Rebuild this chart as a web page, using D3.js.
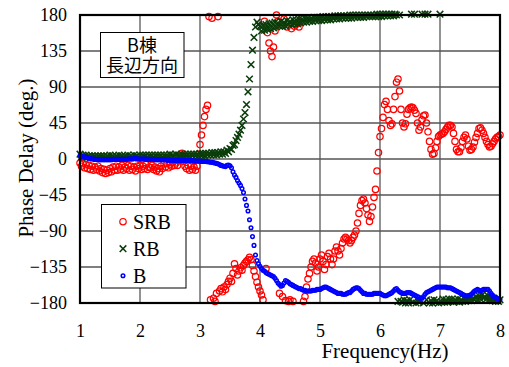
<!DOCTYPE html>
<html>
<head>
<meta charset="utf-8">
<script src="https://cdn.jsdelivr.net/npm/d3@7"></script>
<style>
body { margin: 0; background: #fff; }
text { font-family: "Liberation Serif", "Times New Roman", serif; fill: #000; }
</style>
</head>
<body>
<svg id="chart" width="509" height="367"></svg>
<script>
var width = 509, height = 367
var plot = {left: 80, right: 500, top: 15, bottom: 303}

var xTicks = [1, 2, 3, 4, 5, 6, 7, 8]
var yTicks = [-180, -135, -90, -45, 0, 45, 90, 135, 180]
var legendNames = ["SRB", "RB", "B"]
var noteLines = ["B棟", "長辺方向"]

// sampled every 0.025 Hz from 1 Hz to 8 Hz (8 values per 0.2 Hz row)
var fStart = 1, fStep = 0.025

var srb = [
  -5, -9, -6, -11, -7, -12, -8, -13,
  -9, -14, -10, -13, -9, -15, -12, -17,
  -13, -18, -14, -17, -12, -16, -10, -14,
  -9, -14, -10, -13, -8, -14, -10, -12,
  -8, -14, -9, -13, -10, -15, -9, -12,
  -8, -13, -9, -12, -7, -13, -10, -11,
  -8, -13, -10, -15, -12, -16, -9, -12,
  -6, -10, -6, -11, -7, -9, -4, -8,
  -5, -8, -2, 4, 7, -3, -9, -12,
  -8, -14, -9, -13, -10, -14, -9, 6,
  18, 30, 42, 53, 62, 67, 178, -176,
  176, -174, -178, -168, 178, -165, -162, -166,
  -160, -163, -157, -153, -149, -153, -143, -131,
  -137, -145, -140, -136, -139, -133, -130, -128,
  -126, -123, -126, -133, -140, -147, -154, -160,
  -165, -170, -176, 172, -137, 158, 145, 135,
  128, 140, 160, 180, 172, -168, 168, -172,
  175, -177, 165, -178, -176, 163, -178, 166,
  168, 170, 165, 172, 176, -178, -172, -160,
  -150, -143, -135, -128, -125, -130, -140, -135,
  -125, -120, -128, -138, -132, -122, -118, -125,
  -132, -125, -115, -110, -115, -120, -112, -105,
  -100, -98, -100, -102, -105, -102, -98, -95,
  -90, -80, -68, -58, -52, -50, -55, -62,
  -70, -78, -72, -60, -48, -38, -15, 8,
  28, 38, 52, 68, 72, 62, 48, 42,
  44, 62, 78, 96, 100, 85, 62, 45,
  40, 44, 56, 62, 64, 65, 64, 61,
  57, 45, 36, 40, 49, 54, 55, 45,
  34, 22, 12, 6, 7, 14, 22, 28,
  30, 31, 32, 34, 37, 40, 42, 42,
  40, 32, 22, 12, 9, 9, 14, 22,
  27, 30, 25, 16, 11, 12, 15, 21,
  27, 32, 38, 39, 36, 32, 27, 22,
  18, 15, 16, 19, 22, 25, 27, 28,
  30
]

var rb = [
  6, 3, 5, 3, 5, 2, 4, 2,
  4, 2, 4, 1, 4, 2, 4, 2,
  4, 1, 4, 2, 5, 2, 4, 1,
  4, 2, 5, 2, 4, 2, 4, 2,
  5, 2, 4, 2, 5, 3, 4, 2,
  5, 2, 5, 3, 5, 2, 5, 3,
  5, 2, 5, 3, 5, 3, 5, 2,
  5, 3, 5, 2, 6, 3, 5, 3,
  6, 3, 5, 3, 6, 3, 6, 3,
  6, 3, 6, 4, 6, 4, 6, 4,
  7, 4, 7, 4, 7, 5, 7, 5,
  8, 5, 8, 5, 8, 6, 9, 6,
  9, 7, 11, 9, 13, 12, 17, 18,
  23, 27, 31, 36, 42, 50, 58, 68,
  84, 100, 118, 136, 152, 165, 171, 168,
  166, 160, 167, 161, 168, 162, 169, 163,
  170, 164, 171, 165, 170, 166, 172, 166,
  171, 166, 173, 168, 172, 168, 174, 169,
  174, 169, 175, 170, 175, 171, 176, 171,
  176, 172, 176, 172, 177, 173, 177, 173,
  177, 173, 178, 174, 178, 174, 178, 174,
  178, 175, 179, 175, 179, 175, 179, 176,
  179, 176, 179, 176, 180, 176, 180, 177,
  180, 177, 180, 177, 180, 177, 180, 178,
  180, 178, 180, 178, 180, 178, 181, 178,
  181, 178, 181, 179, 181, 179, 181, 179,
  181, 179, 181, 180, -178, 180, -178, -179,
  -176, -180, -177, -180, -176, 181, -179, 181,
  -180, -176, -179, -177, 181, -180, 181, -176,
  181, -180, -177, -180, -176, -179, -177, -180,
  181, -179, -175, -179, -176, -179, -175, -178,
  -175, -179, -176, -178, -175, -179, -176, -178,
  -174, -178, -175, -177, -173, -177, -174, -176,
  -172, -176, -171, -175, -170, -174, -172, -175,
  -171, -176, -173, -177, -174, -178, -175, -178,
  -176
]

var b = [
  4, 3.5, 3, 2.5, 2, 1.5, 1, 0.5,
  0, 0, -0.5, -0.5, -1, -1, -1, -1,
  -1, -1, -1, -1, -1, -1, -0.5, -0.5,
  -0.5, -0.5, -0.5, -0.5, -0.5, -0.5, -0.5, -0.5,
  0, 0, 0, 0, 0.5, 0.5, 0, 0,
  0, 0, 0, 0, 0, -0.5, -0.5, -0.5,
  -0.5, -0.5, -1, -1, -1, -1, -1, -1,
  -1, -1, -1.5, -1.5, -1.5, -1.5, -1.5, -2,
  -2, -2, -2, -2, -2, -2, -2, -2,
  -2, -2, -2, -2, -2.5, -2.5, -2.5, -2.5,
  -2.5, -3, -3, -3, -3, -3.5, -3.5, -4,
  -4, -4.5, -5, -5.5, -6, -7, -8, -8.5,
  -9, -9.5, -8, -7.5, -8.5, -11, -16, -20,
  -23, -27, -30, -33, -37, -42, -50, -58,
  -65, -76, -86, -97, -108, -120, -127, -131,
  -134, -137, -139, -140, -142, -143, -144, -145,
  -146, -147, -149, -152, -155, -157, -159, -158,
  -155, -152, -153, -154, -156, -157, -158, -159,
  -160, -161, -162, -162, -163, -164, -164, -165,
  -165, -165, -165, -164, -164, -164, -163, -163,
  -163, -162, -161, -160, -160, -161, -162, -163,
  -164, -165, -166, -167, -168, -168, -168, -169,
  -169, -169, -168, -167, -167, -165, -163, -162,
  -161, -161, -162, -164, -166, -168, -168, -169,
  -169, -169, -169, -169, -168, -168, -168, -168,
  -168, -169, -170, -171, -171, -170, -169, -168,
  -167, -165, -163, -162, -164, -166, -167, -168,
  -168, -168, -167, -167, -167, -168, -169, -170,
  -171, -172, -173, -174, -174, -172, -169, -167,
  -166, -165, -164, -163, -162, -161, -160, -160,
  -160, -160, -160, -160, -160, -161, -161, -161,
  -162, -163, -164, -165, -166, -167, -168, -169,
  -170, -171, -171, -171, -170, -169, -167, -165,
  -164, -163, -164, -165, -164, -163, -163, -163,
  -163, -165, -168, -170, -172, -173, -174, -175,
  -176
]

var series = [
  {name: legendNames[0], values: srb, color: "#ff0000", shape: "circle"},
  {name: legendNames[1], values: rb, color: "#0a3d0a", shape: "cross"},
  {name: legendNames[2], values: b, color: "#0000ff", shape: "dot"}
]

var svg = d3.select("#chart")
svg.append("rect").attr("width", width).attr("height", height).attr("fill", "#fff")

var x = d3.scaleLinear().domain([1, 8]).range([plot.left, plot.right])
var y = d3.scaleLinear().domain([-180, 180]).range([plot.bottom, plot.top])

// grid
var grid = svg.append("g")
grid.selectAll(".vg").data(xTicks.slice(1, -1)).enter().append("line")
  .attr("x1", d => x(d)).attr("x2", d => x(d))
  .attr("y1", plot.top).attr("y2", plot.bottom)
  .attr("stroke", "#3a3a3a").attr("stroke-width", 1.1)
grid.selectAll(".hg").data(yTicks.slice(1, -1)).enter().append("line")
  .attr("y1", d => y(d)).attr("y2", d => y(d))
  .attr("x1", plot.left).attr("x2", plot.right)
  .attr("stroke", "#555").attr("stroke-width", 1.3)

function drawMarker(sel, shape, color) {
  if (shape === "circle") {
    sel.append("circle").attr("r", 3.2)
      .attr("fill", "none").attr("stroke", color).attr("stroke-width", 1.2)
  } else if (shape === "cross") {
    sel.append("path").attr("d", "M-3.3,-3.3L3.3,3.3M3.3,-3.3L-3.3,3.3")
      .attr("fill", "none").attr("stroke", color).attr("stroke-width", 1.5)
  } else {
    sel.append("circle").attr("r", 1.8)
      .attr("fill", "none").attr("stroke", color).attr("stroke-width", 1.5)
  }
}

// points
series.forEach(s => {
  var pts = s.values.map((v, i) => ({f: fStart + i * fStep, v: v}))
  var g = svg.append("g")
  var m = g.selectAll("g").data(pts).enter().append("g")
    .attr("transform", d => "translate(" + x(d.f) + "," + y(d.v) + ")")
  drawMarker(m, s.shape, s.color)
})

// frame
svg.append("rect")
  .attr("x", plot.left).attr("y", plot.top)
  .attr("width", plot.right - plot.left).attr("height", plot.bottom - plot.top)
  .attr("fill", "none").attr("stroke", "#000").attr("stroke-width", 2.2)

// axes
var yAxis = svg.append("g").attr("transform", "translate(" + plot.left + ",0)")
  .call(d3.axisLeft(y).tickValues(yTicks).tickSize(0).tickPadding(13).tickFormat(d3.format("d")))
var xAxis = svg.append("g").attr("transform", "translate(0," + plot.bottom + ")")
  .call(d3.axisBottom(x).tickValues(xTicks).tickSize(0).tickPadding(21).tickFormat(d3.format("d")))
;[yAxis, xAxis].forEach(a => {
  a.select(".domain").remove()
  a.selectAll("text").attr("font-family", "Liberation Serif").attr("font-size", 18).attr("fill", "#000")
})

svg.append("text").attr("x", 385).attr("y", 358).attr("text-anchor", "middle")
  .attr("font-size", 21).text("Frequency(Hz)")
svg.append("text").attr("transform", "translate(33,158) rotate(-90)").attr("text-anchor", "middle")
  .attr("font-size", 21).text("Phase Delay (deg.)")

// note box (both lines in one text element)
var note = svg.append("g")
note.append("rect").attr("x", 100.5).attr("y", 32.5).attr("width", 83.5).attr("height", 45)
  .attr("fill", "#fff").attr("stroke", "#000").attr("stroke-width", 1)
var noteText = note.append("text")
  .attr("text-anchor", "middle")
  .style("font-family", "'Noto Sans CJK JP', sans-serif")
  .attr("font-size", 18)
noteText.selectAll("tspan").data(noteLines).enter().append("tspan")
  .attr("x", 142).attr("y", (d, i) => 52 + i * 19.5)
  .text(d => d)

// legend
var legend = svg.append("g")
legend.append("rect").attr("x", 101.5).attr("y", 204.5).attr("width", 84.5).attr("height", 83.5)
  .attr("fill", "#fff").attr("stroke", "#000").attr("stroke-width", 1)
var items = legend.selectAll(".item").data(series).enter().append("g")
  .attr("transform", (d, i) => "translate(123," + (221.7 + i * 27) + ")")
items.each(function(d) { drawMarker(d3.select(this), d.shape, d.color) })
items.append("text").attr("x", 10).attr("dy", "0.35em").attr("font-size", 20).text(d => d.name)
</script>
</body>
</html>
